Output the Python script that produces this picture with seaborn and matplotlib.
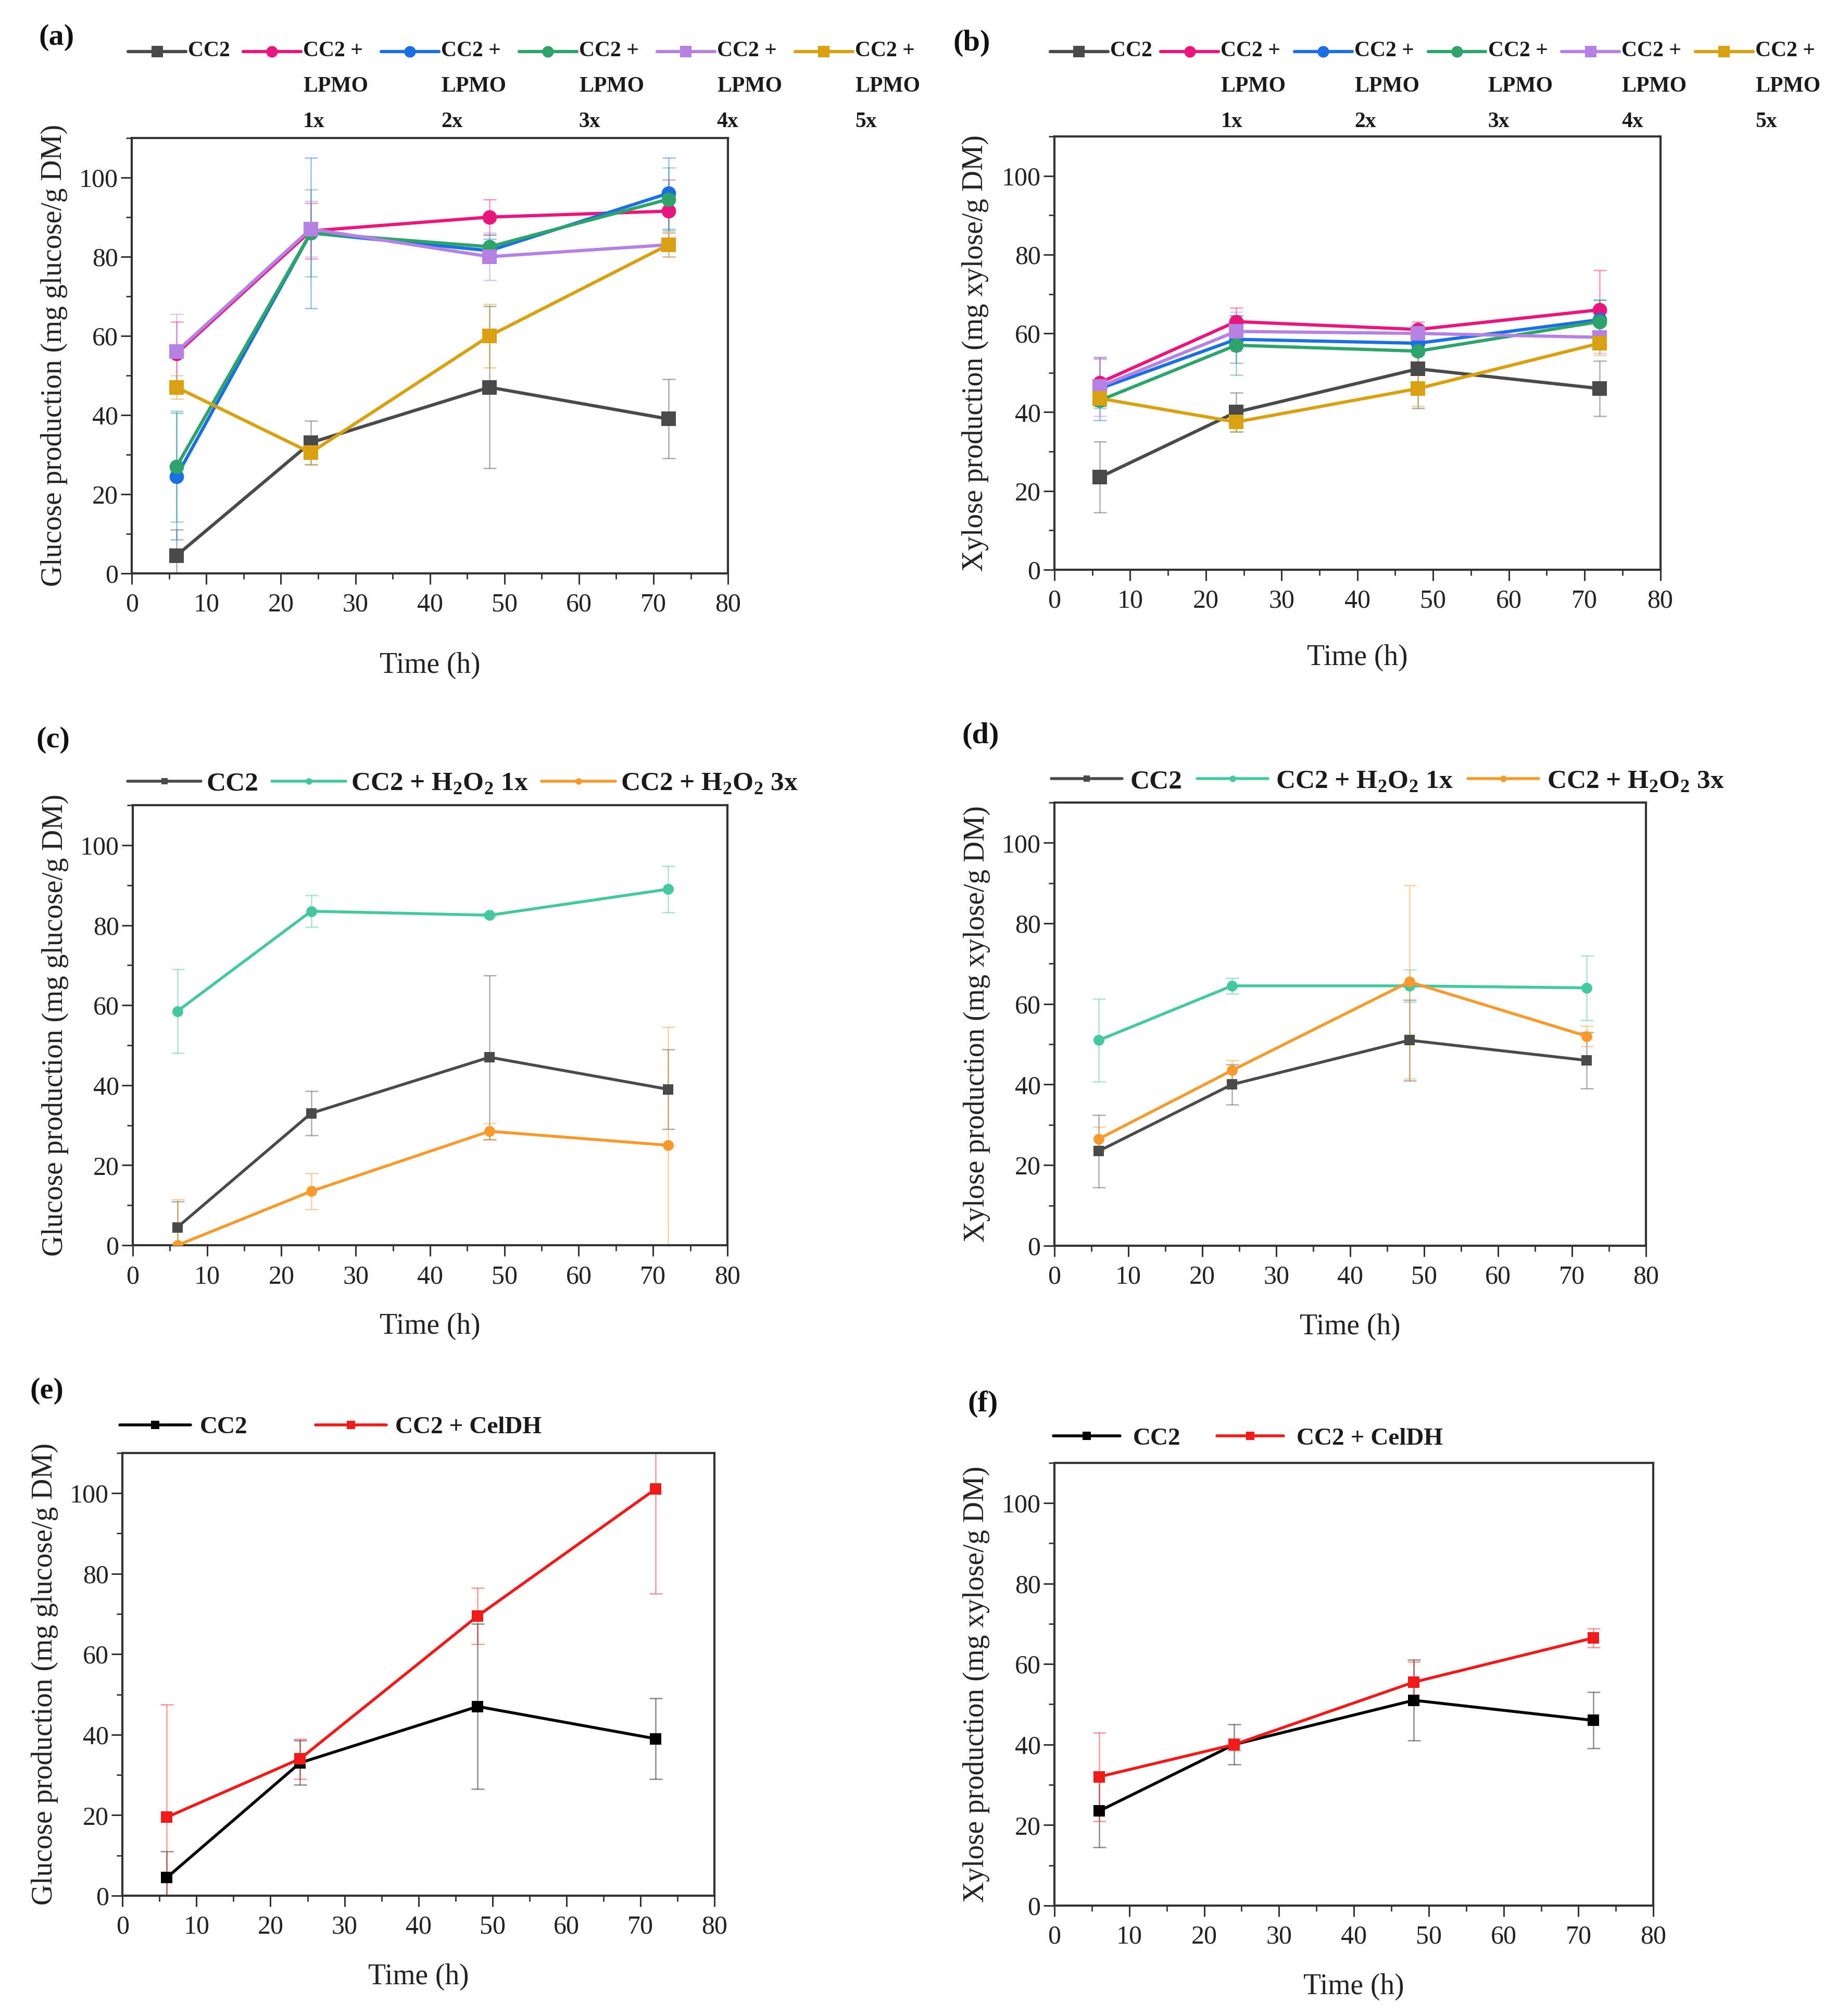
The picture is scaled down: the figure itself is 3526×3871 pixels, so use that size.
import matplotlib
matplotlib.use('Agg')
import matplotlib.pyplot as plt
import seaborn as sns
from matplotlib.legend_handler import HandlerLine2D
from matplotlib.ticker import MultipleLocator

# sampling times (h)
time_h = [6, 24, 48, 72]

# glucose / xylose of the reference cocktail CC2
glu_cc2 = [4.5, 33, 47, 39]
glu_cc2_err = [6.5, 5.5, 20.5, 10]
xyl_cc2 = [23.5, 40, 51, 46]
xyl_cc2_err = [9, 5, 10, 7]

# (a) glucose with LPMO doses
glu_lpmo1 = [55.5, 86.5, 90, 91.5]
glu_lpmo1_err = [8, 7, 4.5, 8]
glu_lpmo2 = [24.5, 86, 81.5, 96]
glu_lpmo2_err = [16, 19, 3, 9]
glu_lpmo3 = [27, 86, 82.5, 94.5]
glu_lpmo3_err = [14, 11, 3, 8]
glu_lpmo4 = [56, 87, 80, 83]
glu_lpmo4_err = [9.5, 7, 6, 3]
glu_lpmo5 = [47, 30.5, 60, 83]
glu_lpmo5_err = [3, 3, 8, 3]

# (b) xylose with LPMO doses
xyl_lpmo1 = [47.5, 63, 61, 66]
xyl_lpmo1_err = [6, 3.5, 2, 10]
xyl_lpmo2 = [46, 58.5, 57.5, 63.5]
xyl_lpmo2_err = [8, 6, 3, 5]
xyl_lpmo3 = [43, 57, 55.5, 63]
xyl_lpmo3_err = [2, 7.5, 3, 5.5]
xyl_lpmo4 = [46.5, 60.5, 60, 59]
xyl_lpmo4_err = [7.5, 5, 2, 4]
xyl_lpmo5 = [43.5, 37.5, 46, 57.5]
xyl_lpmo5_err = [2, 2.5, 4.5, 3]

# (c)/(d) H2O2 additions
glu_h2o2_1 = [58.5, 83.5, 82.5, 89]
glu_h2o2_1_err = [10.5, 4, 0.5, 5.8]
glu_h2o2_3 = [0, 13.5, 28.5, 25]
glu_h2o2_3_err = [11.5, 4.5, 2, 29.5]
xyl_h2o2_1 = [51, 64.5, 64.5, 64]
xyl_h2o2_1_err = [10.3, 2, 4, 8]
xyl_h2o2_3 = [26.5, 43.5, 65.5, 52]
xyl_h2o2_3_err = [3, 2.5, 24, 2.5]

# (e)/(f) CelDH addition
glu_celdh = [19.5, 34, 69.5, 101]
glu_celdh_err = [28, 5, 7, 26]
xyl_celdh = [32, 40, 55.5, 66.5]
xyl_celdh_err = [11, 1.5, 5, 2.3]

lpmo_labels = ['CC2\n \n ', 'CC2 +\nLPMO\n1x', 'CC2 +\nLPMO\n2x', 'CC2 +\nLPMO\n3x',
               'CC2 +\nLPMO\n4x', 'CC2 +\nLPMO\n5x']
h2o2_labels = ['CC2', r'CC2 + H$_\mathbf{2}$O$_\mathbf{2}$ 1x', r'CC2 + H$_\mathbf{2}$O$_\mathbf{2}$ 3x']
celdh_labels = ['CC2', 'CC2 + CelDH']

lpmo_colors = ['#4a4a4a', '#e8177d', '#1c6fe0', '#2ea36b', '#b482e2', '#d8a114']
lpmo_markers = ['s', 'o', 'o', 'o', 's', 's']
h2o2_colors = ['#4a4a4a', '#45c7a0', '#f79a2e']
h2o2_markers = ['s', 'o', 'o']
celdh_colors = ['#000000', '#ee1b1b']

sns.set_theme(style='ticks')
plt.rcParams['font.family'] = ['Liberation Serif', 'DejaVu Serif']
plt.rcParams['mathtext.fontset'] = 'custom'
plt.rcParams['mathtext.rm'] = 'Liberation Serif'
plt.rcParams['mathtext.bf'] = 'Liberation Serif:bold'


class RaisedLine(HandlerLine2D):
    # puts the legend line next to the first line of a multi-line label
    def __init__(self, raise_pts=0, **kw):
        super().__init__(**kw)
        self.raise_pts = raise_pts

    def create_artists(self, legend, orig_handle, xdescent, ydescent, width, height, fontsize, trans):
        return super().create_artists(legend, orig_handle, xdescent, ydescent - 2 * self.raise_pts,
                                      width, height, fontsize, trans)


def draw_panel(ax, ys, errs, labels, colors, markers, ms, lw, ylabel, xlab_y):
    for y, e, lab, c, m in zip(ys, errs, labels, colors, markers):
        ax.errorbar(time_h, y, yerr=e, fmt='none', ecolor=c, alpha=0.45, elinewidth=1.8,
                    capsize=9, capthick=1.8, zorder=1)
        sns.lineplot(x=time_h, y=y, color=c, marker=m, markersize=ms, markeredgewidth=0,
                     linewidth=lw, label=lab, legend=False, errorbar=None, ax=ax, zorder=3)
    ax.set_xlim(0, 80)
    ax.set_ylim(0, 110)
    ax.xaxis.set_major_locator(MultipleLocator(10))
    ax.xaxis.set_minor_locator(MultipleLocator(5))
    ax.yaxis.set_major_locator(MultipleLocator(20))
    ax.yaxis.set_minor_locator(MultipleLocator(10))
    ax.tick_params(which='major', direction='out', length=15, width=2.2, labelsize=36,
                   color='#333333', labelcolor='#222222')
    ax.tick_params(axis='x', which='major', pad=12)
    ax.tick_params(axis='y', which='major', pad=4)
    ax.tick_params(which='minor', direction='out', length=8, width=2, color='#333333')
    for s in ax.spines.values():
        s.set_visible(True)
        s.set_linewidth(3)
        s.set_color('#333333')
    ax.set_xlabel('Time (h)', fontsize=40, color='#222222')
    ax.set_ylabel(ylabel, fontsize=40, color='#222222')
    ax.xaxis.set_label_coords(0.5, xlab_y)
    ax.yaxis.set_label_coords(-0.108, 0.5)


def add_legend(fig, ax, anchor, fs, ms, hl, htp, cs, nlines=1, ls=1.0):
    handles, labels = ax.get_legend_handles_labels()
    raise_pts = (nlines - 1) / 2 * ls * 0.78 * fs
    leg = fig.legend(handles, labels, loc='upper left', bbox_to_anchor=anchor, ncol=len(handles),
                     frameon=False, borderpad=0, borderaxespad=0, handlelength=hl,
                     handletextpad=htp, columnspacing=cs, markerscale=ms,
                     prop={'size': fs, 'weight': 'bold'},
                     handler_map={h: RaisedLine(raise_pts) for h in handles})
    for t in leg.get_texts():
        t.set_linespacing(ls)
        t.set_color('#1a1a1a')
    return leg


fig = plt.figure(figsize=(35.26, 38.71), dpi=100)

ax_a = fig.add_axes([0.0718, 0.7156, 0.3247, 0.216])
ax_b = fig.add_axes([0.5743, 0.7174, 0.330, 0.2149])
ax_c = fig.add_axes([0.0723, 0.3823, 0.3239, 0.2183])
ax_d = fig.add_axes([0.5743, 0.3821, 0.3222, 0.2198])
ax_e = fig.add_axes([0.0667, 0.0597, 0.3225, 0.2196])
ax_f = fig.add_axes([0.5743, 0.0548, 0.3262, 0.2196])

glu_label = 'Glucose production (mg glucose/g DM)'
xyl_label = 'Xylose production (mg xylose/g DM)'

draw_panel(ax_a, [glu_cc2, glu_lpmo1, glu_lpmo2, glu_lpmo3, glu_lpmo4, glu_lpmo5],
           [glu_cc2_err, glu_lpmo1_err, glu_lpmo2_err, glu_lpmo3_err, glu_lpmo4_err, glu_lpmo5_err],
           lpmo_labels, lpmo_colors, lpmo_markers, 20, 4.5, glu_label, -0.180)
draw_panel(ax_b, [xyl_cc2, xyl_lpmo1, xyl_lpmo2, xyl_lpmo3, xyl_lpmo4, xyl_lpmo5],
           [xyl_cc2_err, xyl_lpmo1_err, xyl_lpmo2_err, xyl_lpmo3_err, xyl_lpmo4_err, xyl_lpmo5_err],
           lpmo_labels, lpmo_colors, lpmo_markers, 20, 4.5, xyl_label, -0.172)
draw_panel(ax_c, [glu_cc2, glu_h2o2_1, glu_h2o2_3], [glu_cc2_err, glu_h2o2_1_err, glu_h2o2_3_err],
           h2o2_labels, h2o2_colors, h2o2_markers, 15, 4.0, glu_label, -0.153)
draw_panel(ax_d, [xyl_cc2, xyl_h2o2_1, xyl_h2o2_3], [xyl_cc2_err, xyl_h2o2_1_err, xyl_h2o2_3_err],
           h2o2_labels, h2o2_colors, h2o2_markers, 15, 4.0, xyl_label, -0.153)
draw_panel(ax_e, [glu_cc2, glu_celdh], [glu_cc2_err, glu_celdh_err],
           celdh_labels, celdh_colors, ['s', 's'], 16, 4.0, glu_label, -0.153)
draw_panel(ax_f, [xyl_cc2, xyl_celdh], [xyl_cc2_err, xyl_celdh_err],
           celdh_labels, celdh_colors, ['s', 's'], 16, 4.0, xyl_label, -0.153)

add_legend(fig, ax_a, (0.0698, 0.9797), 30, 0.8, 2.66, 0.1, 0.6, nlines=3, ls=2.05)
add_legend(fig, ax_b, (0.572, 0.9797), 30, 0.8, 2.66, 0.1, 0.4, nlines=3, ls=2.05)
add_legend(fig, ax_c, (0.0695, 0.6172), 37, 0.6, 2.75, 0.2, 0.5)
add_legend(fig, ax_d, (0.5726, 0.6184), 37, 0.6, 2.65, 0.3, 0.55)
add_legend(fig, ax_e, (0.0652, 0.2975), 34, 0.75, 2.88, 0.37, 2.77)
add_legend(fig, ax_f, (0.5737, 0.292), 34, 0.75, 2.72, 0.52, 1.47)

for txt, x, y in [('(a)', 0.021, 0.9815), ('(b)', 0.519, 0.9785), ('(c)', 0.0196, 0.633),
                  ('(d)', 0.524, 0.635), ('(e)', 0.0162, 0.310), ('(f)', 0.527, 0.3035)]:
    fig.text(x, y, txt, fontsize=42, fontweight='bold', va='center', ha='left', color='#111111')

fig.savefig('out.png', dpi=100, facecolor='white')
